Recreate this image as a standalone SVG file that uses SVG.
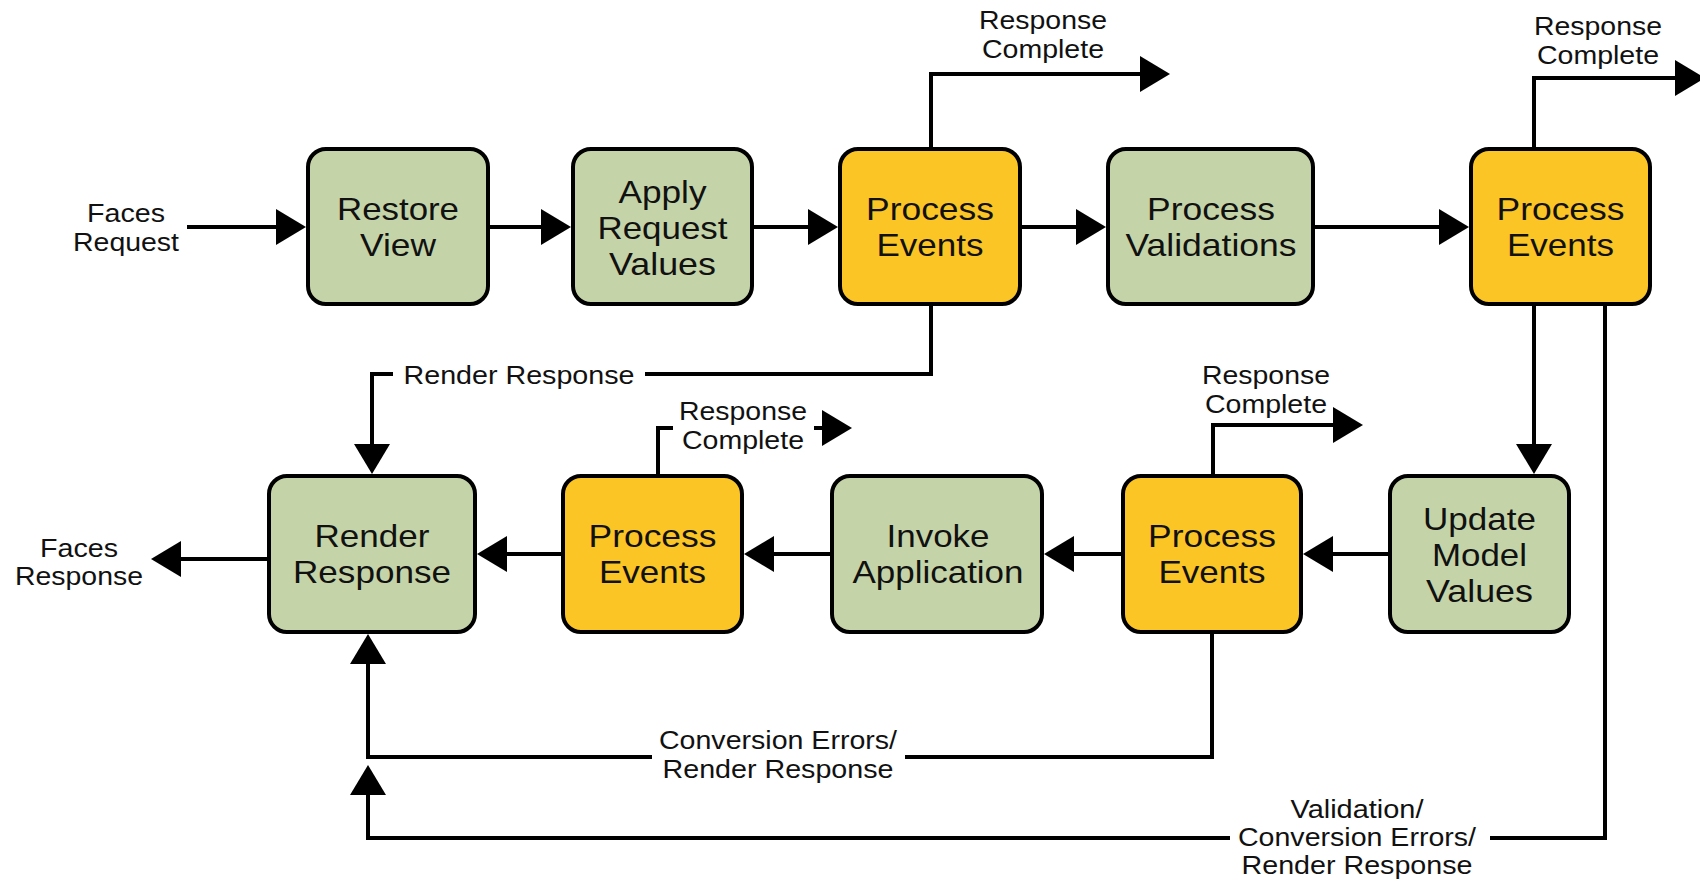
<svg xmlns="http://www.w3.org/2000/svg" width="1700" height="882" viewBox="0 0 1700 882">
  <defs>
    <marker id="arrow" markerUnits="userSpaceOnUse" viewBox="0 0 30 36" markerWidth="30" markerHeight="36" refX="22" refY="18" orient="auto">
      <path d="M0,0 L30,18 L0,36 Z" fill="#000"/>
    </marker>
    <style>
      .phase rect { stroke: #000; stroke-width: 4; }
      .green rect { fill: #c5d4a8; }
      .event rect { fill: #fcc526; }
      .txt { font-family: "Liberation Sans", Arial, Helvetica, sans-serif; fill: #111; text-anchor: middle; }
      .box-label { font-size: 32px; }
      .label { font-size: 25px; }
      .wire { fill: none; stroke: #000; stroke-width: 4; stroke-linejoin: miter; stroke-linecap: butt; }
      .arrow { marker-end: url(#arrow); }
    </style>
  </defs>

  <rect width="1700" height="882" fill="#fff"/>

  <!-- connectors -->
  <g id="connectors">
    <!-- top row, left to right -->
    <path class="wire arrow" d="M187,227 H298"/>
    <path class="wire arrow" d="M490,227 H563"/>
    <path class="wire arrow" d="M754,227 H830"/>
    <path class="wire arrow" d="M1022,227 H1098"/>
    <path class="wire arrow" d="M1315,227 H1461"/>

    <!-- response complete exits -->
    <path class="wire arrow" d="M931,147 V74 H1162"/>
    <path class="wire arrow" d="M1534,147 V78 H1697"/>
    <path class="wire arrow" d="M658,474 V428 H673 M814,428 H844"/>
    <path class="wire arrow" d="M1213,474 V425 H1355"/>

    <!-- down into Update Model Values -->
    <path class="wire arrow" d="M1534,306 V466"/>

    <!-- bottom row, right to left -->
    <path class="wire arrow" d="M1388,554 H1311"/>
    <path class="wire arrow" d="M1121,554 H1052"/>
    <path class="wire arrow" d="M830,554 H752"/>
    <path class="wire arrow" d="M561,554 H485"/>
    <path class="wire arrow" d="M267,559 H159"/>

    <!-- render response shortcut from the first event phase -->
    <path class="wire arrow" d="M931,306 V374 H645 M393,374 H372 V466"/>

    <!-- conversion errors loop -->
    <path class="wire arrow" d="M1212,634 V757 H905 M652,757 H368 V642"/>

    <!-- validation / conversion errors loop -->
    <path class="wire arrow" d="M1605,306 V838 H1490 M1230,838 H368 V773"/>
  </g>

  <!-- connector labels -->
  <g id="labels" class="txt label">
    <text x="126" y="222" textLength="78" lengthAdjust="spacingAndGlyphs">Faces</text>
    <text x="126" y="251" textLength="106" lengthAdjust="spacingAndGlyphs">Request</text>

    <text x="79" y="557" textLength="78" lengthAdjust="spacingAndGlyphs">Faces</text>
    <text x="79" y="585" textLength="128" lengthAdjust="spacingAndGlyphs">Response</text>

    <text x="1043" y="29" textLength="128" lengthAdjust="spacingAndGlyphs">Response</text>
    <text x="1043" y="58" textLength="122" lengthAdjust="spacingAndGlyphs">Complete</text>

    <text x="1598" y="35" textLength="128" lengthAdjust="spacingAndGlyphs">Response</text>
    <text x="1598" y="64" textLength="122" lengthAdjust="spacingAndGlyphs">Complete</text>

    <text x="743" y="420" textLength="128" lengthAdjust="spacingAndGlyphs">Response</text>
    <text x="743" y="449" textLength="122" lengthAdjust="spacingAndGlyphs">Complete</text>

    <text x="1266" y="384" textLength="128" lengthAdjust="spacingAndGlyphs">Response</text>
    <text x="1266" y="413" textLength="122" lengthAdjust="spacingAndGlyphs">Complete</text>

    <text x="519" y="384" textLength="231" lengthAdjust="spacingAndGlyphs">Render Response</text>

    <text x="778" y="749" textLength="238" lengthAdjust="spacingAndGlyphs">Conversion Errors/</text>
    <text x="778" y="778" textLength="231" lengthAdjust="spacingAndGlyphs">Render Response</text>

    <text x="1357" y="818" textLength="133" lengthAdjust="spacingAndGlyphs">Validation/</text>
    <text x="1357" y="846" textLength="238" lengthAdjust="spacingAndGlyphs">Conversion Errors/</text>
    <text x="1357" y="874" textLength="231" lengthAdjust="spacingAndGlyphs">Render Response</text>
  </g>

  <!-- phases -->
  <g id="restore-view" class="phase green">
    <rect x="308" y="149" width="180" height="155" rx="18"/>
    <text class="txt box-label" x="398" y="220" textLength="122" lengthAdjust="spacingAndGlyphs">Restore</text>
    <text class="txt box-label" x="398" y="256" textLength="76" lengthAdjust="spacingAndGlyphs">View</text>
  </g>

  <g id="apply-request-values" class="phase green">
    <rect x="573" y="149" width="179" height="155" rx="18"/>
    <text class="txt box-label" x="662.5" y="203" textLength="88" lengthAdjust="spacingAndGlyphs">Apply</text>
    <text class="txt box-label" x="662.5" y="239" textLength="130" lengthAdjust="spacingAndGlyphs">Request</text>
    <text class="txt box-label" x="662.5" y="275" textLength="107" lengthAdjust="spacingAndGlyphs">Values</text>
  </g>

  <g id="process-events-1" class="phase event">
    <rect x="840" y="149" width="180" height="155" rx="18"/>
    <text class="txt box-label" x="930" y="220" textLength="128" lengthAdjust="spacingAndGlyphs">Process</text>
    <text class="txt box-label" x="930" y="256" textLength="107" lengthAdjust="spacingAndGlyphs">Events</text>
  </g>

  <g id="process-validations" class="phase green">
    <rect x="1108" y="149" width="205" height="155" rx="18"/>
    <text class="txt box-label" x="1211" y="220" textLength="128" lengthAdjust="spacingAndGlyphs">Process</text>
    <text class="txt box-label" x="1211" y="256" textLength="171" lengthAdjust="spacingAndGlyphs">Validations</text>
  </g>

  <g id="process-events-2" class="phase event">
    <rect x="1471" y="149" width="179" height="155" rx="18"/>
    <text class="txt box-label" x="1560.5" y="220" textLength="128" lengthAdjust="spacingAndGlyphs">Process</text>
    <text class="txt box-label" x="1560.5" y="256" textLength="107" lengthAdjust="spacingAndGlyphs">Events</text>
  </g>

  <g id="update-model-values" class="phase green">
    <rect x="1390" y="476" width="179" height="156" rx="18"/>
    <text class="txt box-label" x="1479.5" y="530" textLength="113" lengthAdjust="spacingAndGlyphs">Update</text>
    <text class="txt box-label" x="1479.5" y="566" textLength="95" lengthAdjust="spacingAndGlyphs">Model</text>
    <text class="txt box-label" x="1479.5" y="602" textLength="107" lengthAdjust="spacingAndGlyphs">Values</text>
  </g>

  <g id="process-events-3" class="phase event">
    <rect x="1123" y="476" width="178" height="156" rx="18"/>
    <text class="txt box-label" x="1212" y="547" textLength="128" lengthAdjust="spacingAndGlyphs">Process</text>
    <text class="txt box-label" x="1212" y="583" textLength="107" lengthAdjust="spacingAndGlyphs">Events</text>
  </g>

  <g id="invoke-application" class="phase green">
    <rect x="832" y="476" width="210" height="156" rx="18"/>
    <text class="txt box-label" x="938" y="547" textLength="103" lengthAdjust="spacingAndGlyphs">Invoke</text>
    <text class="txt box-label" x="938" y="583" textLength="171" lengthAdjust="spacingAndGlyphs">Application</text>
  </g>

  <g id="process-events-4" class="phase event">
    <rect x="563" y="476" width="179" height="156" rx="18"/>
    <text class="txt box-label" x="652.5" y="547" textLength="128" lengthAdjust="spacingAndGlyphs">Process</text>
    <text class="txt box-label" x="652.5" y="583" textLength="107" lengthAdjust="spacingAndGlyphs">Events</text>
  </g>

  <g id="render-response" class="phase green">
    <rect x="269" y="476" width="206" height="156" rx="18"/>
    <text class="txt box-label" x="372" y="547" textLength="115" lengthAdjust="spacingAndGlyphs">Render</text>
    <text class="txt box-label" x="372" y="583" textLength="158" lengthAdjust="spacingAndGlyphs">Response</text>
  </g>
</svg>
